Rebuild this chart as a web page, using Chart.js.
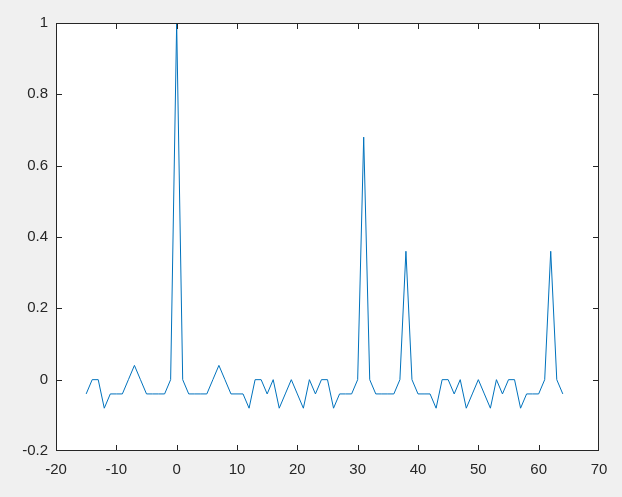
<!DOCTYPE html>
<html>
<head>
<meta charset="utf-8">
<script src="https://cdn.jsdelivr.net/npm/chart.js@4/dist/chart.umd.min.js"></script>
<style>
html,body{margin:0;padding:0;background:#f0f0f0;}
#wrap{width:622px;height:497px;position:relative;}
</style>
</head>
<body>
<div id="wrap"><canvas id="c" width="622" height="497"></canvas></div>
<script>
const xValues = [-15,-14,-13,-12,-11,-10,-9,-8,-7,-6,-5,-4,-3,-2,-1,0,1,2,3,4,5,6,7,8,9,10,11,12,13,14,15,16,17,18,19,20,21,22,23,24,25,26,27,28,29,30,31,32,33,34,35,36,37,38,39,40,41,42,43,44,45,46,47,48,49,50,51,52,53,54,55,56,57,58,59,60,61,62,63,64];
const yValues = [-0.04,0,0,-0.08,-0.04,-0.04,-0.04,0,0.04,0,-0.04,-0.04,-0.04,-0.04,0,1,0,-0.04,-0.04,-0.04,-0.04,0,0.04,0,-0.04,-0.04,-0.04,-0.08,0,0,-0.04,0,-0.08,-0.04,0,-0.04,-0.08,0,-0.04,0,0,-0.08,-0.04,-0.04,-0.04,0,0.68,0,-0.04,-0.04,-0.04,-0.04,0,0.36,0,-0.04,-0.04,-0.04,-0.08,0,0,-0.04,0,-0.08,-0.04,0,-0.04,-0.08,0,-0.04,0,0,-0.08,-0.04,-0.04,-0.04,0,0.36,0,-0.04];
const xTicks = [-20,-10,0,10,20,30,40,50,60,70];
const yTicks = [-0.2,0,0.2,0.4,0.6,0.8,1];

const points = xValues.map((x,i)=>({x:x,y:yValues[i]}));
const axisColor = '#262626';

const bgPlugin = {
  id:'bg',
  beforeDraw(chart){
    const ctx = chart.ctx, a = chart.chartArea;
    ctx.save();
    ctx.fillStyle = '#f0f0f0';
    ctx.fillRect(0,0,chart.width,chart.height);
    ctx.fillStyle = '#ffffff';
    ctx.fillRect(a.left,a.top,a.right-a.left,a.bottom-a.top);
    ctx.restore();
  },
  afterDraw(chart){
    const ctx = chart.ctx, a = chart.chartArea;
    const xs = chart.scales.x, ys = chart.scales.y;
    const L = Math.round(a.left), R = Math.round(a.right)-1;
    const T = Math.round(a.top), B = Math.round(a.bottom)-1;
    ctx.save();
    ctx.fillStyle = axisColor;
    ctx.fillRect(L,T,1,B-T+1);
    ctx.fillRect(R,T,1,B-T+1);
    ctx.fillRect(L,T,R-L+1,1);
    ctx.fillRect(L,B,R-L+1,1);
    const tl = 5;
    xTicks.forEach(v=>{
      const p = Math.round(xs.getPixelForValue(v));
      if (p<=L || p>=R) return;
      ctx.fillRect(p,B-tl,1,tl);
      ctx.fillRect(p,T+1,1,tl);
    });
    yTicks.forEach(v=>{
      const p = Math.round(ys.getPixelForValue(v));
      if (p<=T || p>=B) return;
      ctx.fillRect(L+1,p,tl,1);
      ctx.fillRect(R-tl,p,tl,1);
    });
    ctx.restore();
  }
};

new Chart(document.getElementById('c'), {
  type:'line',
  data:{datasets:[{data:points,borderColor:'#0072BD',borderWidth:1,pointRadius:0,fill:false,tension:0}]},
  plugins:[bgPlugin],
  options:{
    responsive:false,
    animation:false,
    devicePixelRatio:1,
    layout:{padding:{left:0,top:23,right:23,bottom:0}},
    plugins:{legend:{display:false},tooltip:{enabled:false}},
    scales:{
      x:{
        type:'linear',min:-20,max:70,
        afterBuildTicks(s){ s.ticks = xTicks.map(v=>({value:v})); },
        afterFit(s){ s.height = 46; },
        grid:{display:false,drawTicks:false},
        border:{display:false},
        ticks:{padding:10,color:axisColor,font:{family:'"Liberation Sans", Arial, sans-serif',size:15},maxRotation:0,autoSkip:false}
      },
      y:{
        type:'linear',min:-0.2,max:1,
        afterBuildTicks(s){ s.ticks = yTicks.map(v=>({value:v})); },
        afterFit(s){ s.width = 56; },
        grid:{display:false,drawTicks:false},
        border:{display:false},
        ticks:{padding:8,color:axisColor,font:{family:'"Liberation Sans", Arial, sans-serif',size:15},autoSkip:false,
          callback:(v)=>String(Math.round(v*10)/10)}
      }
    }
  }
});
</script>
</body>
</html>
